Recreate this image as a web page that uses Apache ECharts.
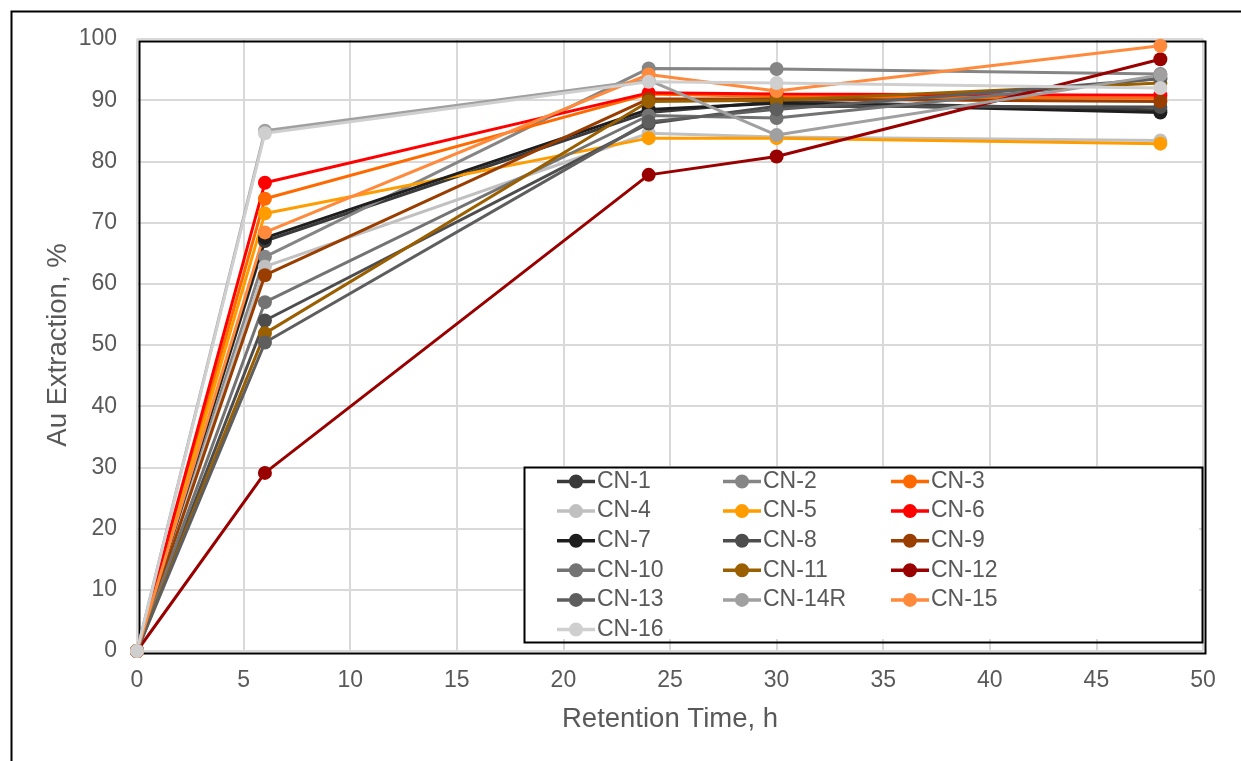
<!DOCTYPE html>
<html>
<head>
<meta charset="utf-8">
<script src="https://cdn.jsdelivr.net/npm/echarts@6/dist/echarts.min.js"></script>
<style>
  html, body { margin: 0; padding: 0; background: #fff; }
  #chart { width: 1241px; height: 761px; }
</style>
</head>
<body>
<div id="chart"></div>
<script>
// Retention time (h) for each sampling point
const hours = [0, 6, 24, 30, 48];
const xTicks = [0, 5, 10, 15, 20, 25, 30, 35, 40, 45, 50];
const yTicks = [0, 10, 20, 30, 40, 50, 60, 70, 80, 90, 100];

// Au extraction (%) per test
const cn1 = [0, 67.0, 88.0, 89.8, 88.4];
const cn2 = [0, 64.4, 95.2, 95.1, 94.3];
const cn3 = [0, 73.9, 91.0, 90.6, 90.3];
const cn4 = [0, 62.8, 84.6, 84.0, 83.4];
const cn5 = [0, 71.5, 83.8, 83.8, 82.9];
const cn6 = [0, 76.5, 91.2, 91.0, 90.8];
const cn7 = [0, 67.5, 88.5, 89.5, 88.0];
const cn8 = [0, 54.0, 86.2, 89.0, 88.9];
const cn9 = [0, 61.4, 90.2, 90.2, 89.8];
const cn10 = [0, 57.0, 87.5, 87.1, 93.6];
const cn11 = [0, 51.9, 89.8, 90.0, 92.8];
const cn12 = [0, 29.1, 77.8, 80.8, 96.7];
const cn13 = [0, 50.4, 86.5, 88.5, 93.5];
const cn14r = [0, 85.0, 93.3, 84.3, 94.1];
const cn15 = [0, 68.4, 94.2, 91.5, 98.9];
const cn16 = [0, 84.6, 93.0, 92.8, 92.0];

const seriesNames = ['CN-1','CN-2','CN-3','CN-4','CN-5','CN-6','CN-7','CN-8',
  'CN-9','CN-10','CN-11','CN-12','CN-13','CN-14R','CN-15','CN-16'];
const seriesValues = [cn1, cn2, cn3, cn4, cn5, cn6, cn7, cn8,
  cn9, cn10, cn11, cn12, cn13, cn14r, cn15, cn16];
const seriesColors = ['#3a3a3a','#858585','#ff6a00','#c0c0c0','#ff9c00','#ff0000',
  '#1e1e1e','#4d4d4d','#9a3d00','#737373','#9a5f00','#990000','#5e5e5e','#a0a0a0',
  '#ff8a3c','#cfcfcf'];

const FONT = '"Liberation Sans", Arial, sans-serif';
const TXT = '#595959';

// legend key: a short line with a round marker in its middle
const LINE_MARKER_ICON = 'path://M0 5.25 H38 V8.75 H0 Z M12 7 A7 7 0 1 1 26 7 A7 7 0 1 1 12 7 Z';

const chart = echarts.init(document.getElementById('chart'), null, { renderer: 'canvas' });

const series = seriesNames.map((name, i) => ({
  name: name,
  type: 'line',
  data: hours.map((h, j) => [h, seriesValues[i][j]]),
  symbol: 'circle',
  symbolSize: 14,
  lineStyle: { width: 3, color: seriesColors[i] },
  itemStyle: { color: seriesColors[i] },
  emphasis: { disabled: true },
  animation: false
}));

// three legend columns, read top to bottom
const col = (k) => seriesNames.filter((_, i) => i % 3 === k);
const legendBase = {
  orient: 'vertical',
  top: 470,
  icon: LINE_MARKER_ICON,
  itemWidth: 38,
  itemHeight: 14,
  itemGap: 6.6,
  textStyle: { fontSize: 23, color: TXT, fontFamily: FONT, lineHeight: 22, padding: [0, 0, 0, -3] },
  selectedMode: false,
  padding: 0
};

chart.setOption({
  backgroundColor: '#fff',
  animation: false,
  grid: { left: 137, top: 39, right: 38, bottom: 110 },
  xAxis: {
    type: 'value', min: xTicks[0], max: xTicks[xTicks.length - 1], interval: 5,
    name: 'Retention Time, h', nameLocation: 'middle', nameGap: 54,
    nameTextStyle: { fontSize: 27.5, color: TXT, fontFamily: FONT },
    axisLine: { show: false }, axisTick: { show: false },
    axisLabel: { fontSize: 23, color: TXT, fontFamily: FONT, margin: 18 },
    splitLine: { show: true, lineStyle: { color: '#d9d9d9', width: 2 } }
  },
  yAxis: {
    type: 'value', min: yTicks[0], max: yTicks[yTicks.length - 1], interval: 10,
    name: 'Au Extraction, %', nameLocation: 'middle', nameGap: 65, nameRotate: 90,
    nameMoveOverlap: false,
    nameTextStyle: { fontSize: 27.5, color: TXT, fontFamily: FONT },
    axisLine: { show: false }, axisTick: { show: false },
    axisLabel: { fontSize: 23, color: TXT, fontFamily: FONT, margin: 20 },
    splitLine: { show: true, lineStyle: { color: '#d9d9d9', width: 2 } }
  },
  legend: [
    Object.assign({}, legendBase, { left: 557, data: col(0) }),
    Object.assign({}, legendBase, { left: 723, data: col(1) }),
    Object.assign({}, legendBase, { left: 891, data: col(2) })
  ],
  graphic: [
    // plot-area frame
    { type: 'rect', left: 137, top: 39, z: 1, silent: true,
      shape: { width: 1066, height: 612 },
      style: { fill: 'none', stroke: '#000', lineWidth: 2 } },
    // outer chart border
    { type: 'rect', left: 9, top: 9, z: 100, silent: true,
      shape: { width: 1300, height: 800 },
      style: { fill: 'none', stroke: '#000', lineWidth: 2 } },
    // legend box
    { type: 'rect', left: 523, top: 466, z: 1, silent: true,
      shape: { width: 676, height: 173 },
      style: { fill: '#fff' } },
    { type: 'rect', left: 522, top: 465, z: 100, silent: true,
      shape: { width: 678, height: 175 },
      style: { fill: 'none', stroke: '#000', lineWidth: 2 } }
  ],
  series: series
});
</script>
</body>
</html>
